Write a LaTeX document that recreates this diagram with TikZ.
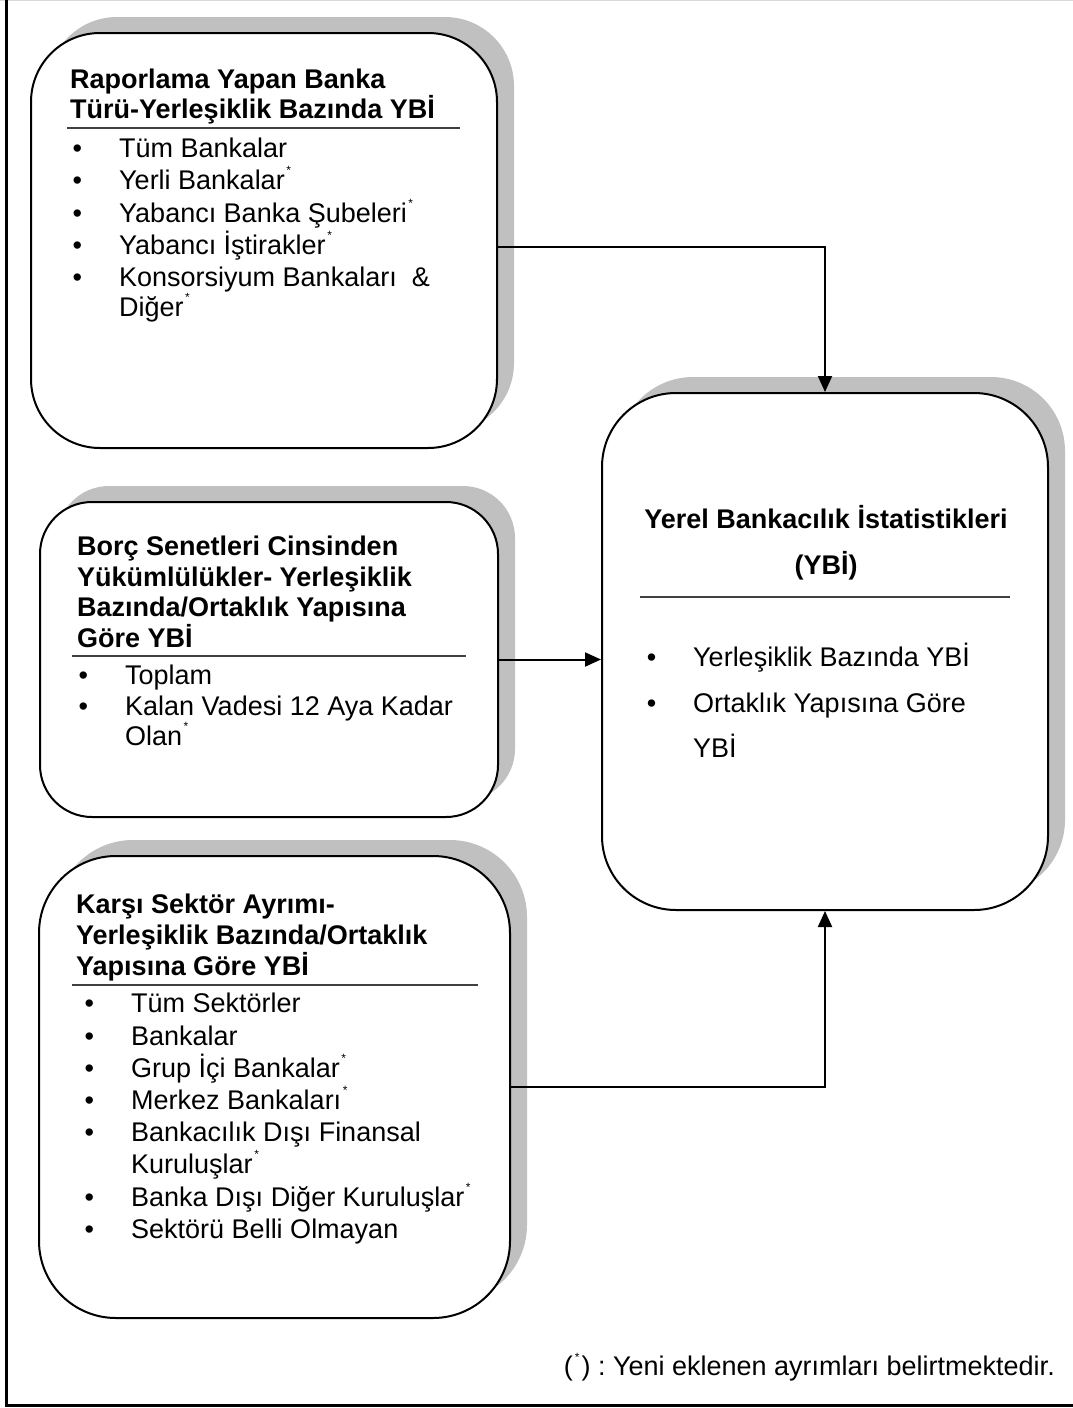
\documentclass[tikz,border=0pt]{standalone}
\usepackage{fontspec}
\setmainfont{Liberation Sans}
\usetikzlibrary{arrows.meta,shadows}
\definecolor{shadowgray}{HTML}{C0C0C0}
\definecolor{sepgray}{HTML}{404040}
\newcommand\st{\hspace{1.5pt}\raisebox{15pt}{\fontsize{12}{12}\selectfont *}}
\newcommand\bl{\llap{\textbullet\hspace{37pt}}}
\frenchspacing
\begin{document}
\begin{tikzpicture}[x=1pt,y=-1pt,
  panel/.style={draw=black, line width=2pt, fill=white, rectangle, inner sep=0pt,
     drop shadow={shadow xshift=17pt, shadow yshift=16pt, fill=shadowgray, opacity=1}},
  hd/.style={anchor=base west, inner sep=0pt, font=\fontsize{27}{32}\selectfont\bfseries},
  it/.style={anchor=base west, inner sep=0pt, font=\fontsize{27}{32}\selectfont},
  conn/.style={line width=2pt, -{Triangle[length=16pt,width=14pt]}},
  sep/.style={draw=sepgray, line width=2pt}]
\useasboundingbox (0,0) rectangle (1073,1408);
% frame
\draw[gray!30, line width=1pt] (0,0.5) -- (1073,0.5);
\draw[line width=3pt] (6,0) -- (6,1405) -- (1073,1405);

% panels
\node[panel, rounded corners=69pt, minimum width=466pt, minimum height=415pt] (box1) at (264,240.5) {};
\node[panel, rounded corners=52pt, minimum width=458pt, minimum height=315pt] (box2) at (269,659.5) {};
\node[panel, rounded corners=77pt, minimum width=471pt, minimum height=462pt] (box3) at (274.5,1087) {};
\node[panel, rounded corners=74pt, minimum width=446pt, minimum height=517pt] (box4) at (825,651.5) {};

% connectors
\draw[conn] ([yshift=-6pt]box1.east) -| (box4.north);
\draw[conn] (box2.east) -- (box2.east -| box4.west);
\draw[conn] (box3.east) -| (box4.south);

% box 1
\node[hd] (t1a) at (70,88) {Raporlama Yapan Banka};
\node[hd] (t1b) at (70,118) {Türü-Yerleşiklik Bazında YBİ};
\draw[sep] (67,128) -- (460,128);
\node[it] (i1a) at (119,157) {\bl Tüm Bankalar};
\node[it] (i1b) at (119,189) {\bl Yerli Bankalar\st};
\node[it] (i1c) at (119,222) {\bl Yabancı Banka Şubeleri\st};
\node[it] (i1d) at (119,254) {\bl Yabancı İştirakler\st};
\node[it] (i1e) at (119,286) {\bl Konsorsiyum Bankaları\ \ \&};
\node[it] (i1f) at (119,316) {Diğer\st};

% box 2
\node[hd] (t2a) at (77,555) {Borç Senetleri Cinsinden};
\node[hd] (t2b) at (77,586) {Yükümlülükler- Yerleşiklik};
\node[hd] (t2c) at (77,616) {Bazında/Ortaklık Yapısına};
\node[hd] (t2d) at (77,647) {Göre YBİ};
\draw[sep] (72,656) -- (466,656);
\node[it] (i2a) at (125,684) {\bl Toplam};
\node[it] (i2b) at (125,715) {\bl Kalan Vadesi 12 Aya Kadar};
\node[it] (i2c) at (125,745) {Olan\st};

% box 3
\node[hd] (t3a) at (76,913) {Karşı Sektör Ayrımı-};
\node[hd] (t3b) at (76,944) {Yerleşiklik Bazında/Ortaklık};
\node[hd] (t3c) at (76,975) {Yapısına Göre YBİ};
\draw[sep] (72,985) -- (478,985);
\node[it] (i3a) at (131,1012) {\bl Tüm Sektörler};
\node[it] (i3b) at (131,1045) {\bl Bankalar};
\node[it] (i3c) at (131,1077) {\bl Grup İçi Bankalar\st};
\node[it] (i3d) at (131,1109) {\bl Merkez Bankaları\st};
\node[it] (i3e) at (131,1141) {\bl Bankacılık Dışı Finansal};
\node[it] (i3f) at (131,1173) {Kuruluşlar\st};
\node[it] (i3g) at (131,1206) {\bl Banka Dışı Diğer Kuruluşlar\st};
\node[it] (i3h) at (131,1238) {\bl Sektörü Belli Olmayan};

% box 4
\node[hd, anchor=base] (t4a) at (826,528) {Yerel Bankacılık İstatistikleri};
\node[hd, anchor=base] (t4b) at (826,574) {(YBİ)};
\draw[sep] (640,597) -- (1010,597);
\node[it] (i4a) at (693,666) {\bl Yerleşiklik Bazında YBİ};
\node[it] (i4b) at (693,712) {\bl Ortaklık Yapısına Göre};
\node[it] (i4c) at (693,757) {YBİ};

% footnote
\node[it, anchor=base east] (note) at (1055,1375) {(\hspace{2pt}\raisebox{14pt}{\fontsize{12}{12}\selectfont *}\hspace{2pt}) : Yeni eklenen ayrımları belirtmektedir.};
\end{tikzpicture}
\end{document}
